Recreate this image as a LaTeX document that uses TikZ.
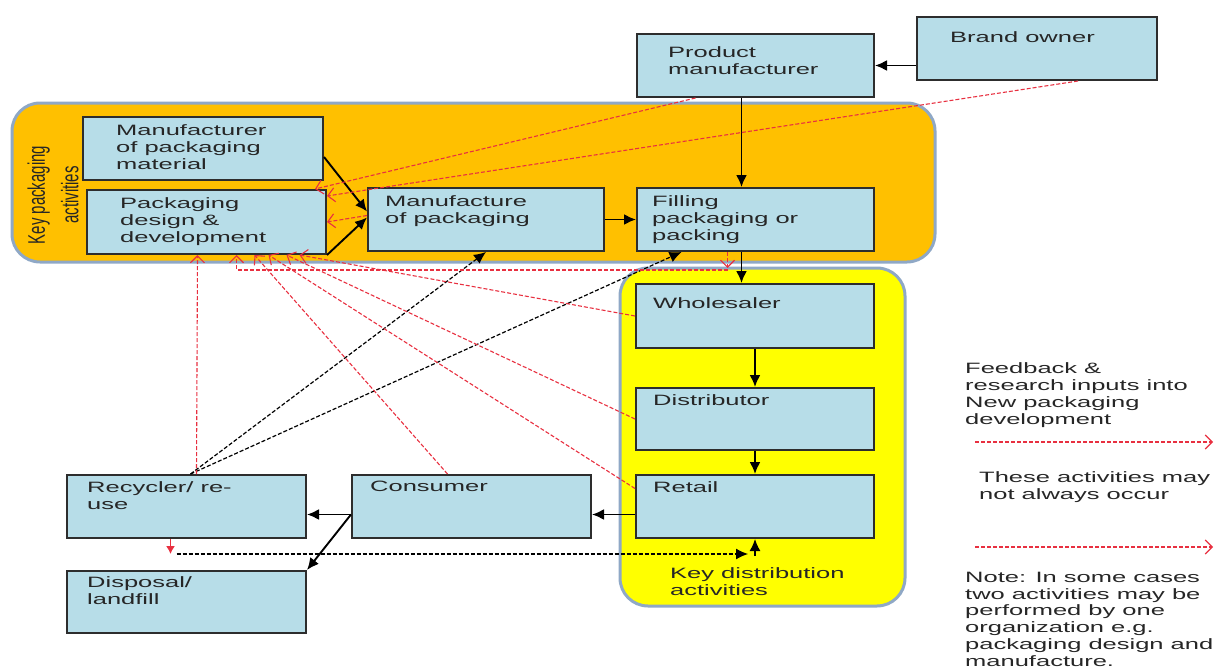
\documentclass[tikz,border=0pt]{standalone}
\usepackage{fontspec}
\setmainfont{Liberation Sans}[FakeStretch=1.7]
\newfontfamily\sidefont{Liberation Sans}
\usepackage{xcolor}
\usetikzlibrary{positioning,calc,arrows.meta}
\definecolor{boxblue}{RGB}{183,221,232}
\definecolor{boxedge}{RGB}{45,45,45}
\definecolor{keyorange}{RGB}{255,192,0}
\definecolor{keyyellow}{RGB}{255,255,0}
\definecolor{rimblue}{RGB}{143,168,198}
\definecolor{fbred}{RGB}{232,48,64}

\begin{document}
\begin{tikzpicture}[x=1pt,y=-1pt,
    actor/.style={draw=boxedge, line width=2pt, fill=boxblue, anchor=north west, inner sep=0pt},
    txt/.style={anchor=north west, inner sep=0pt, align=left, text=black!85, font=\fontsize{15}{17}\selectfont},
    region/.style={draw=rimblue, line width=3pt, rounded corners=28pt},
    flow/.style={line width=1.9pt, -{Latex[length=12pt,width=11pt]}},
    maybe/.style={flow, line width=1.2pt, dash pattern=on 4pt off 2pt},
    fb/.style={draw=fbred, line width=1.1pt, dash pattern=on 4pt off 2pt, -{Straight Barb[length=7pt,width=14pt]}}]

\useasboundingbox (0,0) rectangle (1218,669);

% Key areas
\draw[region, fill=keyorange] (12,103) rectangle (935,262);
\draw[region, fill=keyyellow] (620,268) rectangle (905,606);
\node[rotate=90, yscale=1.6, transform shape, align=center, inner sep=0pt, text=black!85,
      font=\sidefont\fontsize{15}{21}\selectfont] (kp) at (53,195) {Key packaging\\activities};
\node[txt] (kd) at (670,567) {Key distribution\\activities};

% Boxes
\node[actor, minimum width=237pt, minimum height=63pt] (pm) at (636,33) {};
\node[txt] (pm-t) at ($(pm.north west)+(32,13)$) {Product\\manufacturer};
\node[actor, minimum width=240pt, minimum height=63pt] (bo) at (916,16) {};
\node[txt] (bo-t) at ($(bo.north west)+(34,15)$) {Brand owner};
\node[actor, minimum width=240pt, minimum height=63pt] (mpm) at (82,116) {};
\node[txt] (mpm-t) at ($(mpm.north west)+(34,8)$) {Manufacturer\\of packaging\\material};
\node[actor, minimum width=239pt, minimum height=64pt] (pdd) at (86,189) {};
\node[txt] (pdd-t) at ($(pdd.north west)+(34,8)$) {Packaging\\design \&\\development};
\node[actor, minimum width=236pt, minimum height=63pt] (mop) at (367,187) {};
\node[txt] (mop-t) at ($(mop.north west)+(18,8)$) {Manufacture\\of packaging};
\node[actor, minimum width=237pt, minimum height=63pt] (fpp) at (636,187) {};
\node[txt] (fpp-t) at ($(fpp.north west)+(16,8)$) {Filling\\packaging or\\packing};
\node[actor, minimum width=238pt, minimum height=64pt] (whs) at (635,283) {};
\node[txt] (whs-t) at ($(whs.north west)+(18,14)$) {Wholesaler};
\node[actor, minimum width=238pt, minimum height=62pt] (dis) at (635,387) {};
\node[txt] (dis-t) at ($(dis.north west)+(18,7)$) {Distributor};
\node[actor, minimum width=238pt, minimum height=63pt] (ret) at (635,474) {};
\node[txt] (ret-t) at ($(ret.north west)+(18,7)$) {Retail};
\node[actor, minimum width=239pt, minimum height=63pt] (con) at (351,474) {};
\node[txt] (con-t) at ($(con.north west)+(19,7)$) {Consumer};
\node[actor, minimum width=239pt, minimum height=63pt] (rec) at (66,474) {};
\node[txt] (rec-t) at ($(rec.north west)+(21,7)$) {Recycler/ re-\\use};
\node[actor, minimum width=239pt, minimum height=62pt] (dsp) at (66,570) {};
\node[txt] (dsp-t) at ($(dsp.north west)+(21,6)$) {Disposal/\\landfill};

% Legend
\node[txt] (lg1-t) at (965,362) {Feedback \&\\research inputs into\\New packaging\\development};
\node[txt] (lg2-t) at (979,471) {These activities may\\not always occur};
\node[txt, font=\fontsize{15}{16.7}\selectfont] (note) at (965,572)
    {Note: In some cases\\two activities may be\\performed by one\\organization e.g.\\packaging design and\\manufacture.};
\coordinate (lg1a) at (975,442);
\coordinate (lg1b) at (1213,442);
\coordinate (lg2a) at (975,547);
\coordinate (lg2b) at (1213,547);
\draw[fb] (lg1a) -- (lg1b);
\draw[fb] (lg2a) -- (lg2b);

% Main flow
\coordinate (pmout) at ([xshift=-14pt]pm.south);
\coordinate (fppout) at ([xshift=-14pt]fpp.south);
\coordinate (retin) at ([yshift=-8pt]ret.west);
\coordinate (conout) at ([yshift=-8pt]con.west);
\draw[flow] (bo.west |- pm.east) -- (pm.east);
\draw[flow] (pmout) -- (pmout |- fpp.north);
\draw[flow] (mop.east) -- (fpp.west);
\draw[flow] (fppout) -- (fppout |- whs.north);
\draw[flow] (whs.south) -- (dis.north);
\draw[flow] (dis.south) -- (ret.north);
\draw[flow] (retin) -- (retin -| con.east);
\draw[flow] (conout) -- (conout -| rec.east);
\draw[flow] (conout) -- (dsp.north east);
\draw[flow] ([yshift=24pt]mpm.south east) -- ([yshift=8pt]mop.west);
\draw[flow] (pdd.south east) -- ([yshift=2pt]mop.west);

% Reuse (may not occur)
\draw[maybe] ([xshift=4pt]rec.north) -- (mop.south);
\draw[maybe] ([xshift=4pt]rec.north) -- ([xshift=-74pt]fpp.south);
\coordinate (recdrop) at ([xshift=-16pt]rec.south);
\coordinate (recfoot) at ([yshift=-15pt]recdrop);
\coordinate (retfoot) at ([yshift=-15pt]ret.south);
\draw[fbred, line width=1.4pt, -{Latex[length=8pt,width=9pt]}] (recdrop) -- (recfoot);
\draw[maybe] ([xshift=6pt]recfoot) -- ([xshift=-7pt]retfoot);
\draw[flow, line width=1.4pt] ([yshift=-2pt]retfoot) -- (ret.south);

% Feedback into packaging design
\draw[fb] ([xshift=10pt]rec.north) -- ([xshift=-9pt]pdd.south);
\draw[fb] ([xshift=-24pt]con.north) -- ([xshift=48pt]pdd.south);
\draw[fb] ([yshift=18pt]ret.west) -- ([xshift=62pt]pdd.south);
\draw[fb] (dis.west) -- ([xshift=80pt]pdd.south);
\draw[fb] (whs.west) -- ([xshift=93pt]pdd.south);
\coordinate (fbdrop) at ([xshift=-28pt]fpp.south);
\coordinate (fbfoot) at ([yshift=-16pt]fbdrop);
\draw[fb] (fbdrop) -- (fbfoot);
\draw[fb] ([yshift=-2pt]fbfoot) -| ([xshift=30pt]pdd.south);
\draw[fb] ([xshift=-60pt]pm.south) -- ([xshift=-12pt]pdd.north east);
\draw[fb] ([xshift=41pt]bo.south) -- ([yshift=-7pt]pdd.north east);
\draw[fb] ([yshift=4pt]mop.west) -- (pdd.east);
\end{tikzpicture}
\end{document}
